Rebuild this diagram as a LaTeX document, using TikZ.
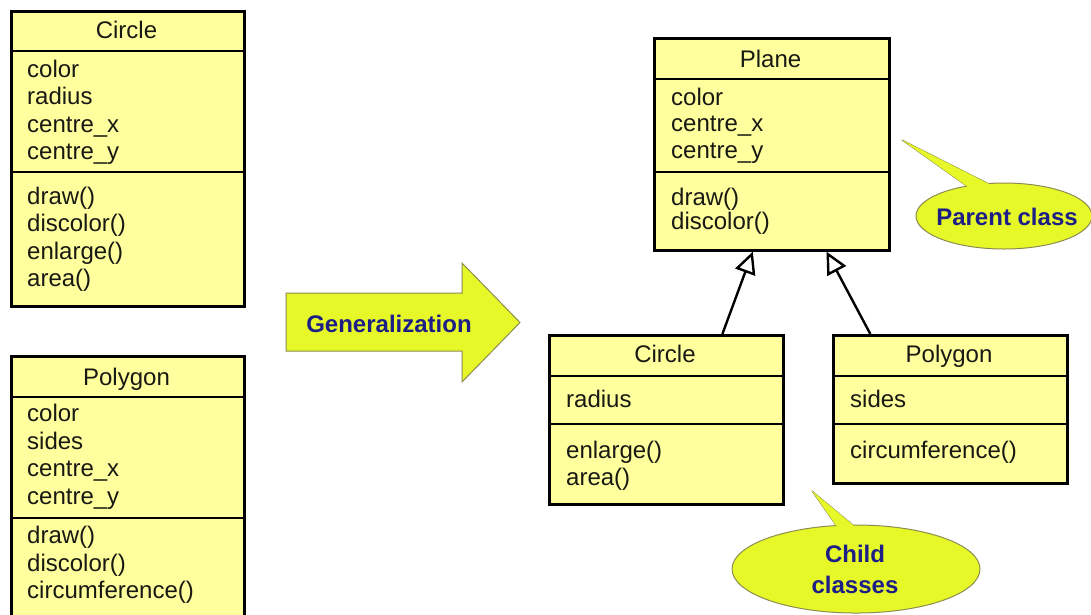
\documentclass[tikz,border=0pt]{standalone}
\usepackage{fontspec}
\setmainfont{Liberation Sans}
\usetikzlibrary{arrows.meta,calc,shapes.geometric}

\definecolor{boxfill}{RGB}{255,255,158}
\definecolor{bubblefill}{RGB}{230,248,40}
\definecolor{bubbleline}{RGB}{140,140,80}
\definecolor{labelblue}{RGB}{30,30,135}
\definecolor{inktext}{RGB}{25,25,20}

\begin{document}
\begin{tikzpicture}[x=1pt,y=-1pt,
  classbox/.style={draw=black, line width=2.6pt, fill=boxfill, rectangle,
    inner sep=0pt, anchor=north west},
  sepline/.style={line width=2.2pt},
  member/.style={anchor=base west, inner sep=0pt,
    font=\fontsize{24}{27}\selectfont, text=inktext},
  ctitle/.style={anchor=base, inner sep=0pt,
    font=\fontsize{24}{27}\selectfont, text=inktext},
  bubble/.style={ellipse, draw=bubbleline, line width=1pt, fill=bubblefill,
    inner sep=0pt},
  tailline/.style={draw=bubbleline, line width=1pt, fill=bubblefill,
    line join=round},
  tailfill/.style={fill=bubblefill},
  blabel/.style={anchor=base, inner sep=0pt,
    font=\fontsize{24}{28}\selectfont\bfseries, text=labelblue},
  inherit/.style={line width=2.4pt,
    -{Triangle[open, length=22pt, width=21pt, fill=white]}}
]
\useasboundingbox (0,0) rectangle (1091,614);
\clip (0,0) rectangle (1091,614);

% ---------- stand-alone class Circle ----------
\node[classbox, minimum width=233pt, minimum height=295pt] (lcircle) at (10,10) {};
\draw[sepline] (lcircle.west |- 0,51) -- (lcircle.east |- 0,51);
\draw[sepline] (lcircle.west |- 0,172) -- (lcircle.east |- 0,172);
\node[ctitle] (lcircle-t) at (126.5,38) {Circle};
\foreach \txt/\yy [count=\i] in {color/77, radius/104.5, centre\_x/132, centre\_y/159.5}
  \node[member] (lcircle-a\i) at (27,\yy) {\txt};
\foreach \txt/\yy [count=\i] in {draw()/204, discolor()/231.5, enlarge()/259, area()/286.5}
  \node[member] (lcircle-m\i) at (27,\yy) {\txt};

% ---------- stand-alone class Polygon ----------
\node[classbox, minimum width=233pt, minimum height=275pt] (lpoly) at (10,355) {};
\draw[sepline] (lpoly.west |- 0,397) -- (lpoly.east |- 0,397);
\draw[sepline] (lpoly.west |- 0,518) -- (lpoly.east |- 0,518);
\node[ctitle] (lpoly-t) at (126.5,385) {Polygon};
\foreach \txt/\yy [count=\i] in {color/421.5, sides/449, centre\_x/476.5, centre\_y/504}
  \node[member] (lpoly-a\i) at (27,\yy) {\txt};
\foreach \txt/\yy [count=\i] in {draw()/543.5, discolor()/571, circumference()/598.5}
  \node[member] (lpoly-m\i) at (27,\yy) {\txt};

% ---------- block arrow ----------
\draw[bubbleline, line width=1pt, fill=bubblefill, line join=miter]
  (286,293) -- (462,293) -- (462,263) -- (520,322.5) -- (462,382) -- (462,351)
  -- (286,351) -- cycle;
\node[blabel] (gen) at (389,332) {Generalization};

% ---------- parent class Plane ----------
\node[classbox, minimum width=235pt, minimum height=212pt] (plane) at (653,37) {};
\draw[sepline] (plane.west |- 0,79) -- (plane.east |- 0,79);
\draw[sepline] (plane.west |- 0,172) -- (plane.east |- 0,172);
\node[ctitle] (plane-t) at (770.5,67) {Plane};
\foreach \txt/\yy [count=\i] in {color/105, centre\_x/131.5, centre\_y/158}
  \node[member] (plane-a\i) at (671,\yy) {\txt};
\foreach \txt/\yy [count=\i] in {draw()/205, discolor()/229}
  \node[member] (plane-m\i) at (671,\yy) {\txt};

% ---------- child class Circle ----------
\node[classbox, minimum width=234pt, minimum height=169pt] (ccircle) at (548,334) {};
\draw[sepline] (ccircle.west |- 0,376) -- (ccircle.east |- 0,376);
\draw[sepline] (ccircle.west |- 0,424) -- (ccircle.east |- 0,424);
\node[ctitle] (ccircle-t) at (665,362) {Circle};
\node[member] (ccircle-a1) at (566,407) {radius};
\node[member] (ccircle-m1) at (566,458) {enlarge()};
\node[member] (ccircle-m2) at (566,485) {area()};

% ---------- child class Polygon ----------
\node[classbox, minimum width=234pt, minimum height=148pt] (cpoly) at (832,334) {};
\draw[sepline] (cpoly.west |- 0,376) -- (cpoly.east |- 0,376);
\draw[sepline] (cpoly.west |- 0,424) -- (cpoly.east |- 0,424);
\node[ctitle] (cpoly-t) at (949,362) {Polygon};
\node[member] (cpoly-a1) at (850,407) {sides};
\node[member] (cpoly-m1) at (850,458) {circumference()};

% ---------- generalization links ----------
\draw[inherit] ($(ccircle.north west)!0.737!(ccircle.north east)$)
  -- ($(plane.south west)!0.42!(plane.south east)$);
\draw[inherit] ($(cpoly.north west)!0.162!(cpoly.north east)$)
  -- ($(plane.south west)!0.73!(plane.south east)$);

% ---------- callout: parent ----------
\coordinate (ptip) at (902,140);
\draw[tailline] (975,192) -- (ptip) -- (999,189);
\node[bubble, minimum width=176pt, minimum height=66pt] (parent) at (1004,216) {};
\fill[tailfill] (975,192) -- (ptip) -- (999,189) -- cycle;
\node[blabel] (parent-t) at (1007,225) {Parent class};

% ---------- callout: children ----------
\coordinate (ctip) at (812,491);
\draw[tailline] (840,531) -- (ctip) -- (859,530);
\node[bubble, minimum width=248pt, minimum height=88pt] (child) at (856,569) {};
\fill[tailfill] (840,531) -- (ctip) -- (859,530) -- cycle;
\node[blabel] (child-t1) at (855,562) {Child};
\node[blabel] (child-t2) at (855,593) {classes};
\end{tikzpicture}
\end{document}
